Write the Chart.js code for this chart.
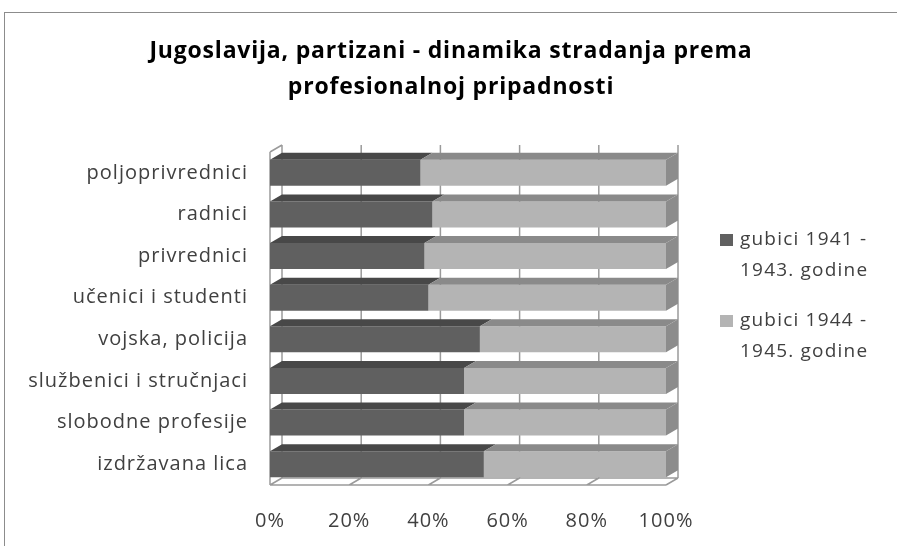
<!DOCTYPE html>
<html>
<head>
<meta charset="utf-8">
<script src="https://cdn.jsdelivr.net/npm/chart.js@4"></script>
<style>
    body { margin: 0; background: #fff; }
    #wrap { position: relative; width: 897px; height: 546px; overflow: hidden; }
    #frame { position: absolute; left: 4px; top: 12px; width: 960px; height: 600px; border: 1px solid #8c8c8c; }
    canvas { position: absolute; left: 0; top: 0; }
    #title { position: absolute; left: 0; top: 31px; width: 902px; text-align: center; font: bold 23px 'Open Sans', sans-serif; letter-spacing: 0.8px; line-height: 36px; color: #000; }
    .legend-item { position: absolute; left: 720px; font: 19px 'Open Sans', sans-serif; letter-spacing: 1.2px; color: #404040; line-height: 31px; }
    .legend-box { position: absolute; left: 0; top: 11px; width: 13px; height: 12px; }
    .legend-text { position: absolute; left: 20px; top: 0; white-space: nowrap; }
</style>
</head>
<body>
<div id="wrap">
    <div id="frame"></div>
    <canvas id="chart" width="897" height="546"></canvas>
    <div id="title"></div>
    <div id="legend"></div>
</div>
<script>
// Chart data
const categories = ['poljoprivrednici', 'radnici', 'privrednici', 'učenici i studenti', 'vojska, policija', 'službenici i stručnjaci', 'slobodne profesije', 'izdržavana lica'];
const losses1941to1943 = [38, 41, 39, 40, 53, 49, 49, 54];
const losses1944to1945 = [62, 59, 61, 60, 47, 51, 51, 46];
const seriesLabels = [['gubici 1941 -', '1943. godine'], ['gubici 1944 -', '1945. godine']];
const tickLabels = ['0%', '20%', '40%', '60%', '80%', '100%'];
const titleLines = ['Jugoslavija, partizani - dinamika stradanja prema', 'profesionalnoj pripadnosti'];

// Colours: front face, top face
const frontColors = ['#606060', '#b4b4b4'];
const topColors = ['#484848', '#8a8a8a'];
const endColor = '#8c8c8c';
const wallColor = '#9a9a9a';

// 3D depth offset
const DX = 12, DY = -7;

// Wider letter spacing for axis text
const spacingPlugin = {
    id: 'spacing',
    beforeDraw(chart) { chart.ctx.letterSpacing = '1px'; }
};

// Back wall, grid lines and floor
const wallPlugin = {
    id: 'wall3d',
    beforeDatasetsDraw(chart) {
        const { ctx, chartArea: a, scales: { x } } = chart;
        ctx.save();
        ctx.strokeStyle = wallColor;
        ctx.lineWidth = 1.5;
        ctx.beginPath();
        x.ticks.forEach(t => {
            const px = x.getPixelForValue(t.value);
            ctx.moveTo(px + DX, a.top + DY);
            ctx.lineTo(px + DX, a.bottom + DY);
            ctx.moveTo(px, a.bottom);
            ctx.lineTo(px + DX, a.bottom + DY);
        });
        // floor
        ctx.moveTo(a.left, a.bottom);
        ctx.lineTo(a.right, a.bottom);
        ctx.moveTo(a.left + DX, a.bottom + DY);
        ctx.lineTo(a.right + DX, a.bottom + DY);
        // left wall
        ctx.moveTo(a.left, a.top);
        ctx.lineTo(a.left, a.bottom);
        ctx.moveTo(a.left, a.top);
        ctx.lineTo(a.left + DX, a.top + DY);
        ctx.stroke();
        ctx.restore();
    },
    afterDatasetsDraw(chart) {
        const { ctx } = chart;
        const last = chart.data.datasets.length - 1;
        chart.data.datasets.forEach((ds, di) => {
            const meta = chart.getDatasetMeta(di);
            meta.data.forEach(bar => {
                const top = bar.y - bar.height / 2;
                const bottom = bar.y + bar.height / 2;
                ctx.fillStyle = topColors[di];
                ctx.beginPath();
                ctx.moveTo(bar.base, top);
                ctx.lineTo(bar.base + DX, top + DY);
                ctx.lineTo(bar.x + DX, top + DY);
                ctx.lineTo(bar.x, top);
                ctx.closePath();
                ctx.fill();
                if (di === last) {
                    ctx.fillStyle = endColor;
                    ctx.beginPath();
                    ctx.moveTo(bar.x, top);
                    ctx.lineTo(bar.x + DX, top + DY);
                    ctx.lineTo(bar.x + DX, bottom + DY);
                    ctx.lineTo(bar.x, bottom);
                    ctx.closePath();
                    ctx.fill();
                }
            });
        });
    }
};

const ctx = document.getElementById('chart').getContext('2d');
const chart = new Chart(ctx, {
    type: 'bar',
    data: {
        labels: categories,
        datasets: [
            { label: seriesLabels[0].join(' '), data: losses1941to1943, backgroundColor: frontColors[0] },
            { label: seriesLabels[1].join(' '), data: losses1944to1945, backgroundColor: frontColors[1] }
        ]
    },
    options: {
        indexAxis: 'y',
        responsive: false,
        animation: false,
        layout: { padding: { left: 8, right: 231, top: 152, bottom: 10 } },
        datasets: { bar: { categoryPercentage: 1, barPercentage: 0.625 } },
        plugins: {
            legend: { display: false },
            tooltip: { enabled: false }
        },
        scales: {
            x: {
                stacked: true,
                min: 0, max: 100,
                grid: { display: false },
                border: { display: false },
                afterFit: s => { s.height = 51; },
                ticks: {
                    stepSize: 20,
                    padding: 16,
                    color: '#404040',
                    font: { family: 'Open Sans', size: 20 },
                    callback: v => tickLabels[v / 20]
                }
            },
            y: {
                stacked: true,
                grid: { display: false },
                border: { display: false },
                afterFit: s => { s.width = 262; },
                ticks: {
                    padding: 14,
                    color: '#404040',
                    font: { family: 'Open Sans', size: 20 }
                }
            }
        }
    },
    plugins: [spacingPlugin, wallPlugin]
});

// HTML title and legend
document.getElementById('title').innerHTML = titleLines.join('<br>');
const legendTops = [223, 304];
document.getElementById('legend').innerHTML = seriesLabels.map((lines, i) => `
    <div class="legend-item" style="top:${legendTops[i]}px">
        <div class="legend-box" style="background:${frontColors[i]}"></div>
        <div class="legend-text">${lines.join('<br>')}</div>
    </div>`).join('');
</script>
</body>
</html>
